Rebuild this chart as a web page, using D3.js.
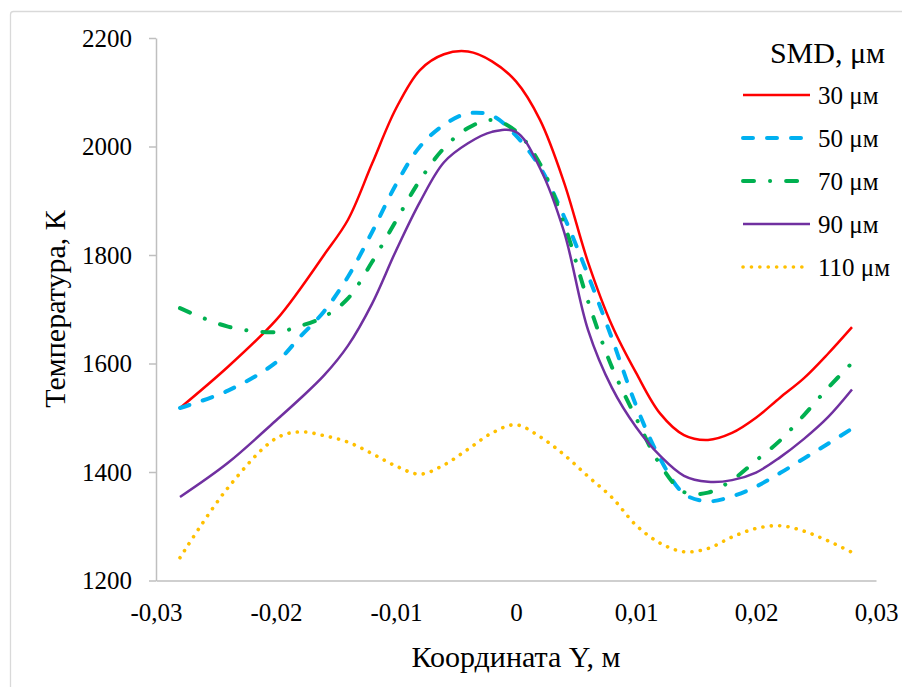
<!DOCTYPE html>
<html>
<head>
<meta charset="utf-8">
<script src="https://cdn.jsdelivr.net/npm/d3@7"></script>
<style>
  body { margin: 0; background: #fff; }
  text { font-family: "Liberation Serif", "Times New Roman", "DejaVu Serif", serif; fill: #000; }
</style>
</head>
<body>
<svg id="chart" width="902" height="687"></svg>
<script>
// coordinate Y, m
var coordY = [-0.028, -0.024, -0.02, -0.018, -0.016, -0.014, -0.012, -0.01, -0.008, -0.006, -0.004, -0.002, 0,
	0.002, 0.004, 0.006, 0.008, 0.01, 0.012, 0.014, 0.016, 0.018, 0.02, 0.022, 0.024, 0.026, 0.028];

// temperature, K
var smd30 = [1518, 1594, 1680, 1737, 1800, 1865, 1968, 2070, 2141, 2170, 2175, 2157, 2120,
	2049, 1934, 1787, 1670, 1583, 1508, 1468, 1459, 1472, 1500, 1537, 1573, 1618, 1667];
var smd50 = [1518, 1550, 1602, 1649, 1696, 1760, 1842, 1930, 2000, 2040, 2061, 2057, 2020,
	1962, 1871, 1763, 1646, 1523, 1425, 1360, 1346, 1355, 1373, 1398, 1425, 1452, 1480];
var smd70 = [1702, 1668, 1658, 1669, 1686, 1720, 1787, 1863, 1938, 1997, 2034, 2049, 2028,
	1968, 1858, 1715, 1593, 1500, 1414, 1363, 1362, 1385, 1421, 1458, 1505, 1555, 1601];
var smd90 = [1354, 1417, 1495, 1535, 1578, 1633, 1710, 1808, 1898, 1971, 2006, 2027, 2027,
	1960, 1843, 1662, 1555, 1483, 1430, 1393, 1382, 1385, 1399, 1427, 1461, 1501, 1552];
var smd110 = [1242, 1371, 1462, 1474, 1467, 1455, 1434, 1411, 1396, 1413, 1442, 1472, 1487,
	1465, 1432, 1392, 1353, 1302, 1269, 1253, 1259, 1280, 1296, 1301, 1291, 1273, 1252];

var seriesNames = ["30 μм", "50 μм", "70 μм", "90 μм", "110 μм"];
var xTicks = [-0.03, -0.02, -0.01, 0, 0.01, 0.02, 0.03];
var yTicks = [1200, 1400, 1600, 1800, 2000, 2200];

var SERIF = "'Liberation Serif', 'Times New Roman', 'DejaVu Serif', serif";

var styles = [
	{color: "#FF0000", width: 2.5, dash: null},
	{color: "#00B0F0", width: 4, dash: "10,14"},
	{color: "#00B050", width: 4, dash: "11,16,0.1,16"},
	{color: "#7030A0", width: 2.5, dash: null},
	{color: "#FFC000", width: 3.6, dash: "0.1,8.3"}
];

var svg = d3.select("#chart");

// chart frame
svg.append("rect")
	.attr("x", 10.5).attr("y", 11.5)
	.attr("width", 900).attr("height", 700)
	.attr("rx", 3)
	.attr("fill", "#fff")
	.attr("stroke", "#D9D9D9")
	.attr("stroke-width", 1.3);

var x = d3.scaleLinear().domain([-0.03, 0.03]).range([156, 876]);
var y = d3.scaleLinear().domain([1200, 2200]).range([580.5, 38]);

function fmt(v) {
	return String(v).replace(".", ",");
}

var yAxis = svg.append("g")
	.attr("transform", "translate(156,0)")
	.call(d3.axisLeft(y).tickValues(yTicks).tickFormat(fmt).tickSize(7).tickSizeOuter(0).tickPadding(17));

var xAxis = svg.append("g")
	.attr("transform", "translate(0,580.5)")
	.call(d3.axisBottom(x).tickValues(xTicks).tickFormat(fmt).tickSize(0).tickSizeOuter(0).tickPadding(23));

svg.selectAll("g").attr("font-family", null);
svg.selectAll(".domain, .tick line")
	.attr("stroke", "#BFBFBF")
	.attr("stroke-width", 1.5);
svg.selectAll(".tick text")
	.style("font-family", SERIF)
	.style("font-size", "25px")
	.attr("fill", "#000");

// axis titles
svg.append("text")
	.attr("x", 516).attr("y", 667)
	.attr("text-anchor", "middle")
	.style("font-family", SERIF)
	.style("font-size", "30px")
	.text("Координата Y, м");

svg.append("text")
	.attr("transform", "translate(65,309) rotate(-90)")
	.attr("text-anchor", "middle")
	.style("font-family", SERIF)
	.style("font-size", "30px")
	.text("Температура, К");

// series
var allSeries = [smd30, smd50, smd70, smd90, smd110];
var line = d3.line()
	.x(function(d) { return x(d[0]); })
	.y(function(d) { return y(d[1]); })
	.curve(d3.curveCatmullRom.alpha(0.5));

allSeries.forEach(function(vals, i) {
	var pts = coordY.map(function(c, j) { return [c, vals[j]]; });
	var st = styles[i];
	var p = svg.append("path")
		.attr("d", line(pts))
		.attr("fill", "none")
		.attr("stroke", st.color)
		.attr("stroke-width", st.width)
		.attr("stroke-linejoin", "round");
	if (st.dash) {
		p.attr("stroke-dasharray", st.dash).attr("stroke-linecap", "round");
	}
});

// legend
svg.append("text")
	.attr("x", 885).attr("y", 63)
	.attr("text-anchor", "end")
	.style("font-family", SERIF)
	.style("font-size", "30px")
	.text("SMD, μм");

seriesNames.forEach(function(name, i) {
	var ly = 95 + i * 43;
	var st = styles[i];
	var l = svg.append("line")
		.attr("x1", 743).attr("x2", 810)
		.attr("y1", ly).attr("y2", ly)
		.attr("stroke", st.color)
		.attr("stroke-width", st.width);
	if (st.dash) {
		l.attr("stroke-dasharray", st.dash).attr("stroke-linecap", "round");
	}
	svg.append("text")
		.attr("x", 818).attr("y", ly)
		.attr("dy", "0.35em")
		.style("font-family", SERIF)
		.style("font-size", "25px")
		.text(name);
});
</script>
</body>
</html>
